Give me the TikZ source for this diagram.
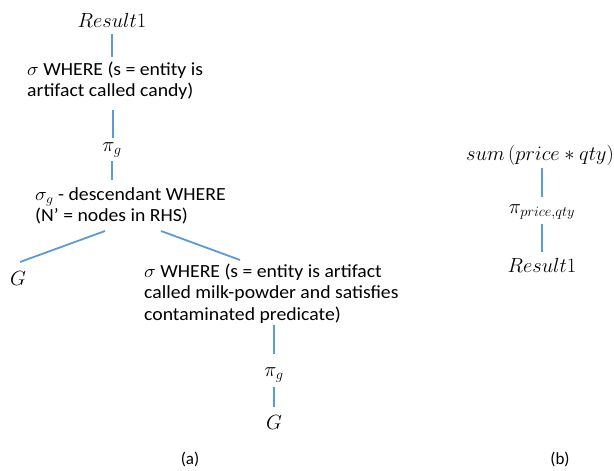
\documentclass[tikz,border=0pt]{standalone}
\usepackage{fix-cm}
\usepackage{graphicx}
\usepackage{fontspec}
\setmainfont{Carlito}
\newcommand{\wideblk}[1]{\scalebox{1.065}[1]{\fontsize{18.5}{21.5}\selectfont\begin{tabular}{@{}l@{}}#1\end{tabular}}}
\begin{document}
\begin{tikzpicture}[x=1pt,y=-1pt,
  lbl/.style={inner sep=0pt,font=\fontsize{19.5}{21.5}\selectfont},
  captxt/.style={inner sep=0pt,font=\fontsize{17}{20}\selectfont},
  mth/.style={inner sep=0pt,font=\fontsize{20.5}{24}\selectfont},
  blk/.style={inner sep=0pt,anchor=north west},
  edge/.style={draw={rgb,255:red,91;green,155;blue,213},line width=1.8pt}]
\useasboundingbox (0,0) rectangle (614,471);
% (a)
\node[mth] (r1) at (112,20) {$Result1$};
\node[blk] (s1) at (27,60) {\wideblk{$\sigma$ WHERE (s = entity is\\artifact called candy)}};
\node[mth] (p1) at (112,150) {$\pi_g$};
\node[blk] (s2) at (35,185) {\wideblk{$\sigma_g$ - descendant WHERE\\(N’ = nodes in RHS)}};
\node[mth] (g1) at (18,278) {$G$};
\node[blk] (s3) at (144,262) {\wideblk{$\sigma$ WHERE (s = entity is artifact\\called milk-powder and satisfies\\contaminated predicate)}};
\node[mth] (p2) at (274,375) {$\pi_g$};
\node[mth] (g2) at (274,422) {$G$};
\node[captxt] (a) at (190,459) {(a)};
\coordinate (c1) at (112,34);
\coordinate (c2) at (112,57);
\coordinate (c3) at (113,110);
\coordinate (c4) at (113,138);
\coordinate (c5) at (112,161);
\coordinate (c6) at (112,180);
\coordinate (c7) at (105,231);
\coordinate (c8) at (20,262);
\coordinate (c9) at (161,231);
\coordinate (c10) at (240,260);
\coordinate (c11) at (274,325);
\coordinate (c12) at (274,354);
\coordinate (c13) at (274,387);
\coordinate (c14) at (274,407);
\draw[edge] (c1) -- (c2);
\draw[edge] (c3) -- (c4);
\draw[edge] (c5) -- (c6);
\draw[edge] (c7) -- (c8);
\draw[edge] (c9) -- (c10);
\draw[edge] (c11) -- (c12);
\draw[edge] (c13) -- (c14);
% (b)
\node[mth] (sum) at (540,155) {$sum\,(price*qty)$};
\node[mth] (pp) at (542,212) {$\pi_{price,qty}$};
\node[mth] (r2) at (542,265) {$Result1$};
\node[captxt] (b) at (560,459) {(b)};
\coordinate (d1) at (542,168);
\coordinate (d2) at (542,197);
\coordinate (d3) at (542,224);
\coordinate (d4) at (542,252);
\draw[edge] (d1) -- (d2);
\draw[edge] (d3) -- (d4);
\end{tikzpicture}
\end{document}
